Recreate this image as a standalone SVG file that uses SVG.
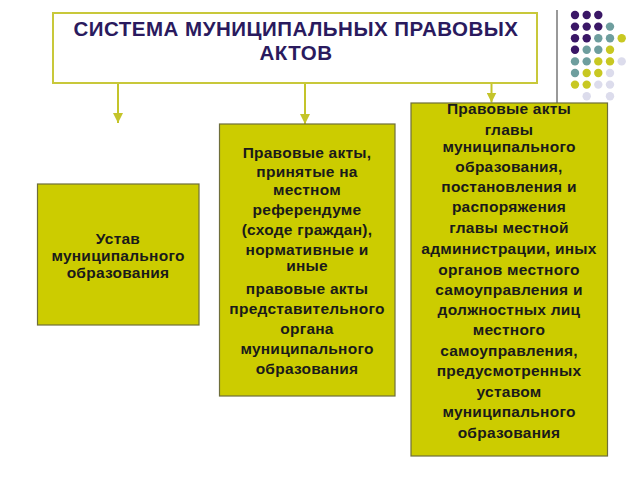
<svg xmlns="http://www.w3.org/2000/svg" width="640" height="480" viewBox="0 0 640 480">
<style>
.box{fill:#cccc00;stroke:#6e6e3a;stroke-width:1.2}
.t{font-family:"Liberation Sans",Arial,sans-serif;font-weight:bold;font-size:15.5px;letter-spacing:0.25px;fill:#1a1a1a;text-anchor:middle}
.title{font-family:"Liberation Sans",Arial,sans-serif;font-weight:bold;font-size:20.5px;letter-spacing:0.5px;fill:#2a1a5e;text-anchor:middle}
.conn{stroke:#c4c42a;stroke-width:2;fill:none}
.p{fill:#3a1766}.q{fill:#6e9e9e}.y{fill:#c8c822}.l{fill:#dcdcec}
</style>
<defs>
<marker id="ah" viewBox="0 0 10 10" refX="10" refY="5" markerWidth="5" markerHeight="5" markerUnits="strokeWidth" orient="auto">
<path d="M0,0 L10,5 L0,10 z" fill="#c4c42a"/>
</marker>
</defs>
<rect width="640" height="480" fill="#ffffff"/>
<g id="decor">
<line x1="557" y1="10" x2="557" y2="103" stroke="#777777" stroke-width="1.5"/>
<circle class="p" cx="575" cy="15" r="4.2"/><circle class="p" cx="586.7" cy="15" r="4.2"/><circle class="p" cx="598.3" cy="15" r="4.2"/>
<circle class="p" cx="575" cy="26.6" r="4.2"/><circle class="p" cx="586.7" cy="26.6" r="4.2"/><circle class="p" cx="598.3" cy="26.6" r="4.2"/><circle class="q" cx="610" cy="26.6" r="4.2"/>
<circle class="p" cx="575" cy="38.2" r="4.2"/><circle class="p" cx="586.7" cy="38.2" r="4.2"/><circle class="q" cx="598.3" cy="38.2" r="4.2"/><circle class="q" cx="610" cy="38.2" r="4.2"/><circle class="y" cx="621.7" cy="38.2" r="4.2"/>
<circle class="p" cx="575" cy="49.8" r="4.2"/><circle class="q" cx="586.7" cy="49.8" r="4.2"/><circle class="q" cx="598.3" cy="49.8" r="4.2"/><circle class="y" cx="610" cy="49.8" r="4.2"/>
<circle class="q" cx="575" cy="61.4" r="4.2"/><circle class="q" cx="586.7" cy="61.4" r="4.2"/><circle class="y" cx="598.3" cy="61.4" r="4.2"/><circle class="y" cx="610" cy="61.4" r="4.2"/><circle class="l" cx="621.7" cy="61.4" r="4.2"/>
<circle class="q" cx="575" cy="73" r="4.2"/><circle class="y" cx="586.7" cy="73" r="4.2"/><circle class="y" cx="598.3" cy="73" r="4.2"/><circle class="l" cx="610" cy="73" r="4.2"/>
<circle class="y" cx="575" cy="84.6" r="4.2"/><circle class="y" cx="586.7" cy="84.6" r="4.2"/><circle class="l" cx="598.3" cy="84.6" r="4.2"/><circle class="l" cx="610" cy="84.6" r="4.2"/>
<circle class="l" cx="586.7" cy="96.2" r="4.2"/><circle class="l" cx="610" cy="96.2" r="4.2"/>
</g>
<g id="connectors">
<line class="conn" x1="118" y1="84" x2="118" y2="123" marker-end="url(#ah)"/>
<line class="conn" x1="305" y1="84" x2="305" y2="124" marker-end="url(#ah)"/>
<line class="conn" x1="491.5" y1="84" x2="491.5" y2="102.5" marker-end="url(#ah)"/>
</g>
<g id="title">
<rect x="53" y="13" width="484" height="70" fill="#ffffff" stroke="#c8c83a" stroke-width="2"/>
<text class="title" x="296" y="36">СИСТЕМА МУНИЦИПАЛЬНЫХ ПРАВОВЫХ</text>
<text class="title" x="296" y="60">АКТОВ</text>
</g>
<g id="node1">
<rect class="box" x="37.5" y="184" width="161.5" height="141"/>
<text class="t" x="118" y="244">Устав</text>
<text class="t" x="118" y="261">муниципального</text>
<text class="t" x="118" y="278">образования</text>
</g>
<g id="node2">
<rect class="box" x="219.5" y="124" width="175.5" height="272"/>
<text class="t" x="307" y="158">Правовые акты,</text>
<text class="t" x="307" y="177">принятые на</text>
<text class="t" x="307" y="195">местном</text>
<text class="t" x="307" y="215">референдуме</text>
<text class="t" x="307" y="235">(сходе граждан),</text>
<text class="t" x="307" y="255">нормативные и</text>
<text class="t" x="307" y="271">иные</text>
<text class="t" x="307" y="294">правовые акты</text>
<text class="t" x="307" y="314">представительного</text>
<text class="t" x="307" y="334">органа</text>
<text class="t" x="307" y="354">муниципального</text>
<text class="t" x="307" y="374">образования</text>
</g>
<g id="node3">
<rect class="box" x="411" y="103" width="196.5" height="353"/>
<text class="t" x="509" y="114">Правовые акты</text>
<text class="t" x="509" y="135">главы</text>
<text class="t" x="509" y="152">муниципального</text>
<text class="t" x="509" y="172">образования,</text>
<text class="t" x="509" y="192">постановления и</text>
<text class="t" x="509" y="212">распоряжения</text>
<text class="t" x="509" y="233">главы местной</text>
<text class="t" x="509" y="254">администрации, иных</text>
<text class="t" x="509" y="275">органов местного</text>
<text class="t" x="509" y="295">самоуправления и</text>
<text class="t" x="509" y="315">должностных лиц</text>
<text class="t" x="509" y="335">местного</text>
<text class="t" x="509" y="356">самоуправления,</text>
<text class="t" x="509" y="376">предусмотренных</text>
<text class="t" x="509" y="397">уставом</text>
<text class="t" x="509" y="417">муниципального</text>
<text class="t" x="509" y="438">образования</text>
</g>
</svg>
